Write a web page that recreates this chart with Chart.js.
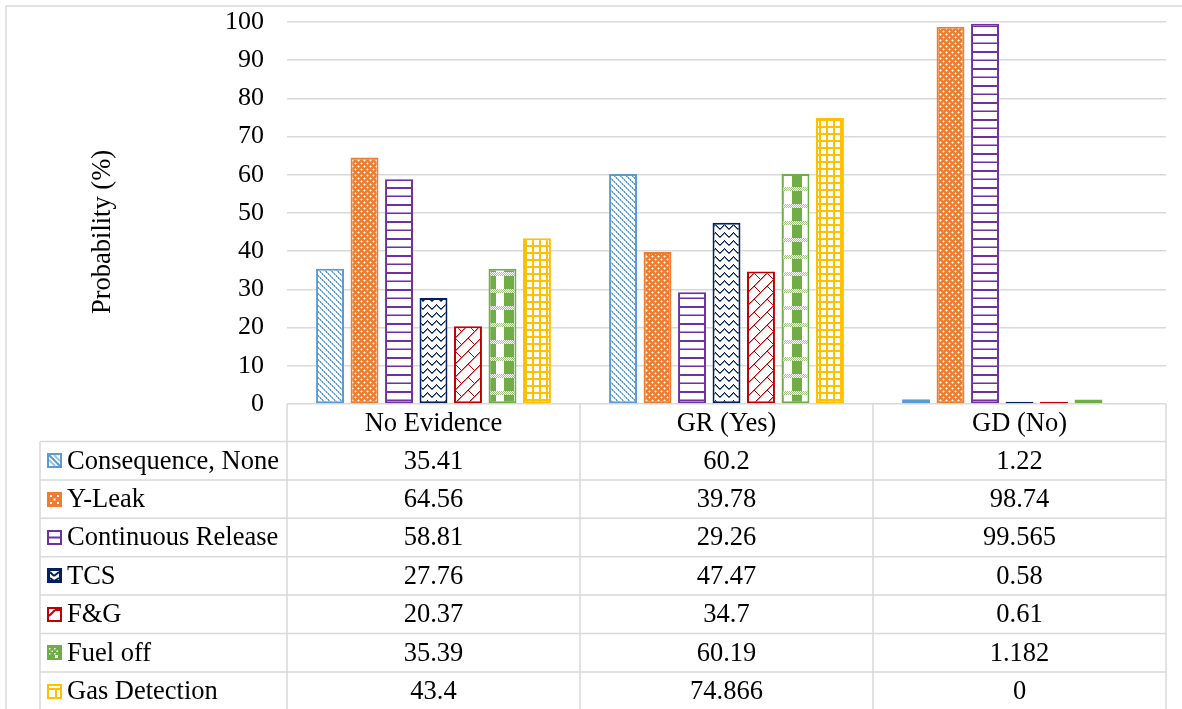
<!DOCTYPE html>
<html>
<head>
<meta charset="utf-8">
<script src="https://cdn.jsdelivr.net/npm/chart.js@4/dist/chart.umd.min.js"></script>
<style>
  html, body { margin: 0; padding: 0; background: #ffffff; }
  #wrap { width: 1182px; height: 709px; position: relative; }
</style>
</head>
<body>
<div id="wrap"><canvas id="chart" width="1182" height="709"></canvas></div>
<script>
// ---- data ----
const categories = ['No Evidence', 'GR (Yes)', 'GD (No)'];
const seriesNames = ['Consequence, None', 'Y-Leak', 'Continuous Release', 'TCS', 'F&G', 'Fuel off', 'Gas Detection'];
const consequenceNone   = [35.41, 60.2, 1.22];
const yLeak             = [64.56, 39.78, 98.74];
const continuousRelease = [58.81, 29.26, 99.565];
const tcs               = [27.76, 47.47, 0.58];
const fireGas           = [20.37, 34.7, 0.61];
const fuelOff           = [35.39, 60.19, 1.182];
const gasDetection      = [43.4, 74.866, 0];
const seriesValues = [consequenceNone, yLeak, continuousRelease, tcs, fireGas, fuelOff, gasDetection];
const yMin = 0, yMax = 100, yStep = 10;
const yTitle = 'Probability (%)';

const FONT = '"Liberation Serif", "Times New Roman", serif';
const GRID = '#d9d9d9';

// ---- hatch fills, built pixel by pixel on small tiles ----
function tile(w, h, paint) {
  const c = document.createElement('canvas');
  c.width = w; c.height = h;
  const g = c.getContext('2d');
  g.fillStyle = '#ffffff';
  g.fillRect(0, 0, w, h);
  paint(g, (x, y, col) => { g.fillStyle = col; g.fillRect(((x % w) + w) % w, ((y % h) + h) % h, 1, 1); });
  return g.createPattern(c, 'repeat');
}

const colors = ['#5B9BD5', '#ED7D31', '#7030A0', '#002060', '#C00000', '#70AD47', '#FFC000'];

const fills = [
  // downward diagonal, dashed look
  tile(6, 6, (g, px) => {
    for (let i = 0; i < 6; i++) {
      px(i, i, i % 2 ? '#9DC3E6' : '#5B9BD5');
      px(i + 1, i, i % 2 ? '#5B9BD5' : '#9DC3E6');
    }
  }),
  // orange with white specks in a staggered grid
  tile(6, 6, (g, px) => {
    g.fillStyle = '#ED7D31'; g.fillRect(0, 0, 6, 6);
    [[1,1],[4,4]].forEach(p => px(p[0], p[1], '#ffffff'));
    [[2,1],[1,2],[0,1],[1,0],[5,4],[4,5],[3,4],[4,3]].forEach(p => px(p[0], p[1], '#F6C6A4'));
  }),
  // horizontal lines
  tile(4, 17, (g, px) => {
    for (let x = 0; x < 4; x++) {
      px(x, 0, '#7030A0'); px(x, 1, '#7030A0');
      px(x, 8, '#B690D6'); px(x, 9, '#7030A0');
    }
  }),
  // zigzag
  tile(9, 8, (g, px) => {
    const ys = [4, 3, 2, 1, 0, 1, 2, 3, 4];
    for (let x = 0; x < 9; x++) {
      px(x, ys[x], '#002060');
      px(x, ys[x] + 1, '#6a7aa0');
    }
  }),
  // diagonal brick
  tile(13, 13, (g, px) => {
    for (let x = 0; x < 13; x++) {
      px(x, 12 - x, '#C00000');
      px(x + 1, 12 - x, '#E08080');
    }
    for (let i = 0; i < 7; i++) {
      px(i, i, '#C00000');
    }
  }),
  // stripes crossed by small-checker bands
  tile(18, 17, (g, px) => {
    g.fillStyle = '#70AD47'; g.fillRect(0, 0, 10, 17);
    for (let y = 0; y < 4; y++) {
      for (let x = 0; x < 18; x++) {
        px(x, y, (x + y) % 2 ? '#9BC77E' : '#ffffff');
      }
    }
  }),
  // small grid
  tile(7, 7, (g, px) => {
    g.fillStyle = '#FFC000';
    g.fillRect(0, 0, 7, 2);
    g.fillRect(0, 0, 2, 7);
  })
];

// small magnified swatches used as legend keys in the table
function drawKey(ctx, i, x, y, s) {
  const c = colors[i];
  ctx.save();
  ctx.fillStyle = '#ffffff';
  ctx.fillRect(x, y, s, s);
  ctx.beginPath(); ctx.rect(x, y, s, s); ctx.clip();
  ctx.lineWidth = 2;
  ctx.strokeStyle = c;
  ctx.fillStyle = c;
  const L = (x1, y1, x2, y2) => { ctx.beginPath(); ctx.moveTo(x + x1, y + y1); ctx.lineTo(x + x2, y + y2); ctx.stroke(); };
  switch (i) {
    case 0:
      L(2, 2, s - 2, s - 2);
      ctx.strokeStyle = '#9DC3E6'; L(2, 7, 8, s - 2); L(7, 2, s - 2, 8);
      break;
    case 1:
      ctx.fillRect(x, y, s, s);
      ctx.fillStyle = '#ffffff';
      for (let a = 0; a < 3; a++) for (let b = 0; b < 3; b++) if ((a + b) % 2 === 0) ctx.fillRect(x + 3 + a * 3.5, y + 3 + b * 3.5, 2, 2);
      break;
    case 2:
      L(0, s / 2, s, s / 2);
      break;
    case 3:
      ctx.fillRect(x, y, s, s);
      ctx.fillStyle = '#ffffff';
      ctx.fillRect(x + 3, y + 3, s - 6, s - 6);
      ctx.strokeStyle = c; L(3, 4, 7, 8); L(7, 8, s - 3, 4); L(3, 10, 7, 13); L(7, 13, s - 3, 10);
      break;
    case 4:
      L(2, 9, 8, 3); L(8, 3, s, 3);
      break;
    case 5:
      ctx.fillRect(x, y, s, s);
      ctx.fillStyle = '#ffffff';
      for (let a = 0; a < 4; a++) for (let b = 0; b < 3; b++) if ((a + b) % 2 === 0) ctx.fillRect(x + 2 + a * 2.5, y + 3 + b * 2.5, 1.5, 1.5);
      ctx.fillRect(x + 8, y + 10, 3, 4);
      break;
    case 6:
      L(0, 5, s, 5); L(9, 5, 9, s);
      break;
  }
  ctx.restore();
  ctx.save();
  ctx.strokeStyle = c;
  ctx.lineWidth = 2;
  ctx.strokeRect(x + 1, y + 1, s - 2, s - 2);
  ctx.restore();
}

const datasets = seriesNames.map((name, i) => ({
  label: name,
  data: seriesValues[i],
  backgroundColor: fills[i],
  borderColor: colors[i],
  borderWidth: 2,
  borderSkipped: false,
  categoryPercentage: 0.824,
  barPercentage: 0.81
}));

// ---- data table, frame and axis title under/around the plot ----
const tablePlugin = {
  id: 'dataTable',
  afterDraw(chart) {
    const ctx = chart.ctx;
    const xs = chart.scales.x;
    const area = chart.chartArea;
    const colW = xs.getPixelForValue(1) - xs.getPixelForValue(0);
    const colLeft = categories.map((_, i) => xs.getPixelForValue(i) - colW / 2);
    const tableRight = colLeft[colLeft.length - 1] + colW;
    const top = area.bottom;
    const headerH = 37.5;
    const rowH = 38.4;
    const labelLeft = 40;
    const bottom = chart.height + 2;

    ctx.save();
    ctx.strokeStyle = GRID;
    ctx.lineWidth = 1.5;

    // outer frame (top and left edges)
    ctx.beginPath();
    ctx.moveTo(6, 6); ctx.lineTo(chart.width, 6);
    ctx.moveTo(6, 6); ctx.lineTo(6, chart.height);
    ctx.stroke();

    // row lines
    ctx.beginPath();
    for (let r = 0; r <= seriesNames.length; r++) {
      const y = top + headerH + r * rowH;
      ctx.moveTo(labelLeft, y); ctx.lineTo(tableRight, y);
    }
    // column lines
    colLeft.forEach(x => { ctx.moveTo(x, top); ctx.lineTo(x, bottom); });
    ctx.moveTo(tableRight, top); ctx.lineTo(tableRight, bottom);
    ctx.moveTo(labelLeft, top + headerH); ctx.lineTo(labelLeft, bottom);
    ctx.stroke();

    ctx.fillStyle = '#000000';
    ctx.font = '26.5px ' + FONT;
    ctx.textBaseline = 'middle';

    // header: category names
    ctx.textAlign = 'center';
    categories.forEach((c, i) => ctx.fillText(c, colLeft[i] + colW / 2, top + headerH / 2 + 1));

    // body rows
    seriesNames.forEach((name, r) => {
      const yMid = top + headerH + r * rowH + rowH / 2;
      drawKey(ctx, r, 47, Math.round(yMid - 7.5), 15);
      ctx.fillStyle = '#000000';
      ctx.textAlign = 'left';
      ctx.fillText(name, 67, yMid + 1);
      ctx.textAlign = 'center';
      seriesValues[r].forEach((v, i) => ctx.fillText(String(v), colLeft[i] + colW / 2, yMid + 1));
    });

    // y axis title
    ctx.translate(103, 232);
    ctx.rotate(-Math.PI / 2);
    ctx.textAlign = 'center';
    ctx.fillText(yTitle, 0, 0);
    ctx.restore();
  }
};

new Chart(document.getElementById('chart'), {
  type: 'bar',
  data: { labels: categories, datasets },
  options: {
    responsive: false,
    devicePixelRatio: 1,
    animation: false,
    layout: { padding: { left: 0, right: 16, top: 22, bottom: 305 } },
    plugins: {
      legend: { display: false },
      tooltip: { enabled: false },
      title: { display: false }
    },
    scales: {
      x: {
        display: false,
        grid: { display: false }
      },
      y: {
        min: yMin,
        max: yMax,
        border: { display: false },
        grid: { color: GRID, lineWidth: 1.5, drawTicks: false },
        ticks: {
          stepSize: yStep,
          padding: 23,
          color: '#000000',
          font: { family: FONT, size: 26 }
        },
        afterFit(scale) {
          scale.width = 287;
          scale.paddingTop = 0;
          scale.paddingBottom = 0;
        }
      }
    }
  },
  plugins: [tablePlugin]
});
</script>
</body>
</html>
